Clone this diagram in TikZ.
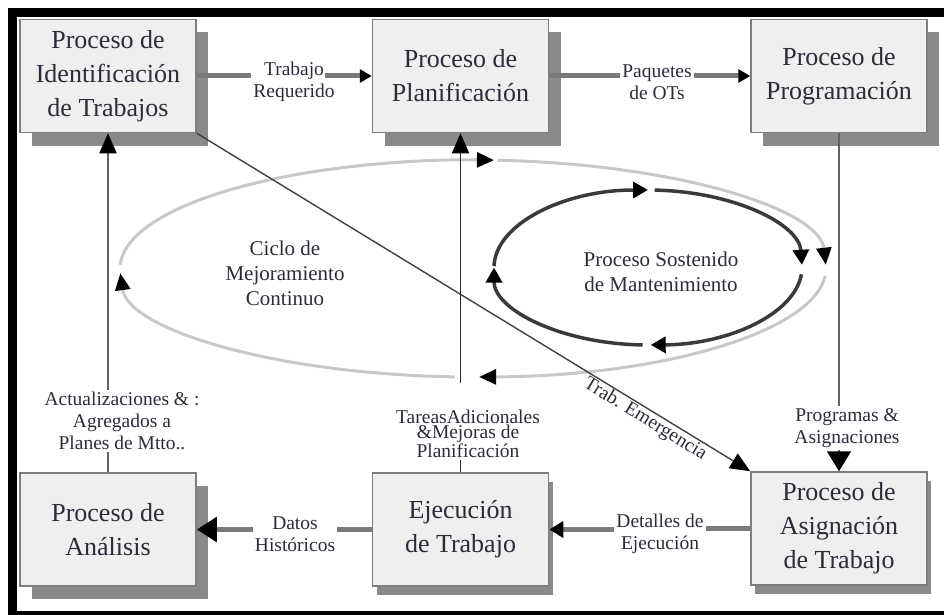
\documentclass[tikz,border=0pt]{standalone}
\usepackage{fontspec}
\setmainfont{Liberation Serif}
\usetikzlibrary{arrows.meta,positioning,shadows}
\definecolor{boxfill}{HTML}{EFEFEF}
\definecolor{boxline}{HTML}{7E7E7E}
\definecolor{shade}{HTML}{8A8A8A}
\definecolor{flow}{HTML}{7A7A7A}
\definecolor{ink}{HTML}{2E2A3A}
\definecolor{cyclegray}{HTML}{C8C8C8}
\definecolor{loopdark}{HTML}{3A3A3A}
\begin{document}
\begin{tikzpicture}[x=1pt,y=1pt,text=ink,
 procbase/.style={draw=boxline,line width=1.5pt,fill=boxfill,align=center,minimum width=176pt,minimum height=113pt,inner sep=0pt,font=\fontsize{26}{34}\selectfont},
 proc/.style={procbase,drop shadow={shadow xshift=12pt,shadow yshift=-13pt,fill=shade,opacity=1}},
 procb/.style={procbase,drop shadow={shadow xshift=4pt,shadow yshift=-9pt,fill=shade,opacity=1}},
 lbl/.style={align=center,inner sep=2pt,font=\fontsize{19.5}{22}\selectfont},
 txt/.style={align=center,font=\fontsize{21}{25}\selectfont},
 flowline/.style={draw=flow,line width=5pt},
 feed/.style={draw=flow!80!black,line width=1.8pt},
 feedk/.style={draw=black!85,line width=1.8pt},
 emerg/.style={draw=black!75,line width=1.4pt},
 cyc/.style={draw=cyclegray,line width=3pt,-{Triangle[color=black,length=17pt,width=15pt]}},
 sust/.style={draw=loopdark,line width=3.5pt,-{Triangle[color=black,length=15pt,width=16pt]}},
 bigtip/.style={-{Triangle[color=black,length=20pt,width=24pt]}},
 midtip/.style={-{Triangle[color=black,length=14pt,width=16pt]}},
 smalltip/.style={-{Triangle[color=black,length=12pt,width=13pt]}},
 uptip/.style={-{Triangle[color=black,length=20pt,width=17pt]}}]
\useasboundingbox (0,-615) rectangle (944,0);
\draw[line width=9pt] (944,-12.5) -- (12.5,-12.5) -- (12.5,-613);
\draw[line width=4pt] (8,-613) -- (944,-613);
\coordinate (cyccenter) at (473,-268.5);
\coordinate (sustcenter) at (648,-267.5);
\draw[cyc] (cyccenter) ++(86:353 and 108.5) arc[start angle=86,end angle=2,x radius=353,y radius=108.5];
\draw[cyc] (cyccenter) ++(-4:353 and 108.5) arc[start angle=-4,end angle=-89,x radius=353,y radius=108.5];
\draw[cyc] (cyccenter) ++(-93:353 and 108.5) arc[start angle=-93,end angle=-177.5,x radius=353,y radius=108.5];
\draw[cyc] (cyccenter) ++(-182:353 and 108.5) arc[start angle=-182,end angle=-273.4,x radius=353,y radius=108.5];
\draw[sust] (sustcenter) ++(87.5:154 and 77.5) arc[start angle=87.5,end angle=2,x radius=154,y radius=77.5];
\draw[sust] (sustcenter) ++(-5:154 and 77.5) arc[start angle=-5,end angle=-89,x radius=154,y radius=77.5];
\draw[sust] (sustcenter) ++(-92:154 and 77.5) arc[start angle=-92,end angle=-180,x radius=154,y radius=77.5];
\draw[sust] (sustcenter) ++(-181:154 and 77.5) arc[start angle=-181,end angle=-270,x radius=154,y radius=77.5];
\node[txt] (ciclo) at (285,-273) {Ciclo de\\Mejoramiento\\Continuo};
\node[txt] (sostenido) at (661,-272) {Proceso Sostenido\\de Mantenimiento};
\node[proc] (ident) at (108,-76) {Proceso de\\Identificación\\de Trabajos};
\node[proc,right=175pt of ident] (plan) {Proceso de\\Planificación};
\node[proc,right=201pt of plan] (prog) {Proceso de\\Programación};
\node[proc,below=339pt of ident] (anal) {Proceso de\\Análisis};
\node[procb,below=339pt of plan] (ejec) {Ejecución\\de Trabajo};
\node[procb,below=338pt of prog] (asig) {Proceso de\\Asignación\\de Trabajo};
\node[lbl] (req) at (294,-82) {Trabajo\\Requerido};
\node[lbl] (paq) at (657,-82) {Paquetes\\de OTs};
\node[lbl] (asg) at (847,-428) {Programas \&\\Asignaciones};
\node[lbl] (det) at (660,-534) {Detalles de\\Ejecución};
\node[lbl] (his) at (295,-534) {Datos\\Históricos};
\node[lbl] (act) at (122,-421) {Actualizaciones \& :\\Agregados a\\Planes de Mtto..};
\node[lbl,font=\fontsize{19.5}{15}\selectfont] (tar) at (468,-434) {TareasAdicionales\\\&Mejoras de\\Planificación};
\draw[flowline] (ident.east) -- (ident.east -| req.west);
\draw[flowline,smalltip] ([xshift=-12pt]plan.west -| req.east) -- (plan.west);
\draw[flowline] (plan.east) -- (plan.east -| paq.west);
\draw[flowline,smalltip] (prog.west -| paq.east) -- (prog.west);
\draw[feed] (prog.south) -- (prog.south |- asg.north);
\draw[feed,bigtip] (asg.south -| asig.north) -- (asig.north);
\draw[flowline] (asig.west) -- (asig.west -| det.east);
\draw[flowline,midtip] (det.west |- ejec.east) -- (ejec.east);
\draw[flowline] (ejec.west) -- (ejec.west -| his.east);
\draw[flowline,bigtip] (his.west |- anal.east) -- (anal.east);
\draw[feed] (anal.north) -- (anal.north |- act.south);
\draw[feed,uptip] (act.north -| anal.north) -- (ident.south);
\draw[feedk] (ejec.north) -- (ejec.north |- tar.south);
\draw[feedk,uptip] ([yshift=25pt]tar.north -| plan.south) -- (plan.south);
\draw[emerg,uptip] (ident.south east) -- node[lbl,sloped,below,pos=0.82,inner sep=1pt] (emer) {Trab. Emergencia} (asig.north west);
\end{tikzpicture}
\end{document}
